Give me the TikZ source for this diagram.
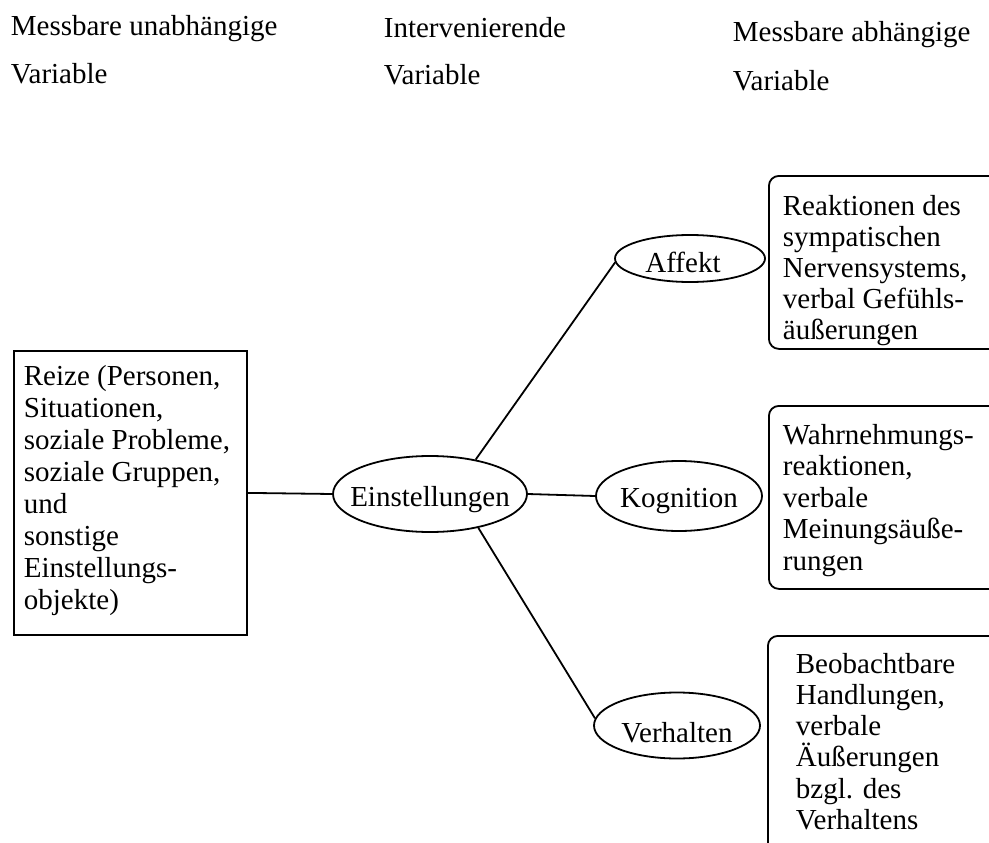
\documentclass[tikz,border=0pt]{standalone}
\usepackage{fontspec}
\setmainfont{Liberation Serif}
\usetikzlibrary{shapes.geometric}

% stacked lines with a fixed baseline distance; the box's baseline is the first line's
\newcommand\ml[2][31pt]{\vtop{\baselineskip=#1\lineskiplimit=-100pt\lineskip=0pt\let\\\cr\halign{##\hfil\cr#2\crcr}}}
% label of an oval: zero-size box, lowered by #2 and shifted right by #1
\newcommand\lbl[3][0pt]{\raisebox{-#2}[0pt][0pt]{\makebox[0pt]{\hspace*{#1}#3\hspace*{-#1}}}}

\tikzset{
  plainbox/.style={draw, rectangle, inner sep=0pt, anchor=north west},
  roundbox/.style={draw, rectangle, rounded corners=10pt, inner sep=0pt, anchor=north west},
  oval/.style={draw, ellipse, inner sep=0pt},
  txt/.style={inner sep=0pt, anchor=base west},
  link/.style={draw}
}

\begin{document}
\begin{tikzpicture}[x=1pt, y=-1pt, line width=1.8pt,
    font=\fontsize{29}{31}\selectfont]
\useasboundingbox (0,0) rectangle (989,843);
\clip (0,0) rectangle (989,843);

% column headings
\node[txt] (lab1) at (10,36) {\ml[48pt]{Messbare unabhängige\\Variable}};
\node[txt] (lab2) at (383,38) {\ml[47pt]{Intervenierende\\Variable}};
\node[txt] (lab3) at (732,42) {\ml[49pt]{Messbare abhängige\\Variable}};

% stimuli
\node[plainbox, minimum width=233pt, minimum height=284pt] (reiz) at (13,350) {};
\node[txt] (reiztxt) at (23,385) {\ml[32pt]{Reize (Personen,\\Situationen,\\soziale Probleme,\\soziale Gruppen,\\und\\sonstige\\Einstellungs-\\objekte)}};

% attitude and its components
\node[oval, minimum width=194pt, minimum height=76pt] (einst) at (430,494) {\lbl{12pt}{Einstellungen}};
\node[oval, minimum width=150pt, minimum height=47pt] (aff) at (690,258.5) {\lbl[-7pt]{14pt}{Affekt}};
\node[oval, minimum width=166pt, minimum height=70pt] (kog) at (679,496) {\lbl{11pt}{Kognition}};
\node[oval, minimum width=166pt, minimum height=66pt] (verh) at (677,725.5) {\lbl{17pt}{Verhalten}};

% measurable responses
\node[roundbox, minimum width=260pt, minimum height=173pt] (rA) at (768,175) {};
\node[txt] (rAtxt) at (782,215) {\ml{Reaktionen des\\sympatischen\\Nervensystems,\\verbal Gefühls-\\äußerungen}};
\node[roundbox, minimum width=260pt, minimum height=183pt] (rK) at (768,405) {};
\node[txt] (rKtxt) at (782,444) {\ml[31.5pt]{Wahrnehmungs-\\reaktionen,\\verbale\\Meinungsäuße-\\rungen}};
\node[roundbox, minimum width=260pt, minimum height=240pt] (rV) at (767,635) {};
\node[txt] (rVtxt) at (795,673) {\ml[31.3pt]{Beobachtbare\\Handlungen,\\verbale\\Äußerungen\\bzgl. des\\Verhaltens}};

% connectors
\draw[link] (reiz.east) -- (einst.west);
\draw[link] (einst.37) -- (aff.183);
\draw[link] (einst.east) -- (kog.west);
\draw[link] (einst.-35) -- (verh.175);
\end{tikzpicture}
\end{document}
